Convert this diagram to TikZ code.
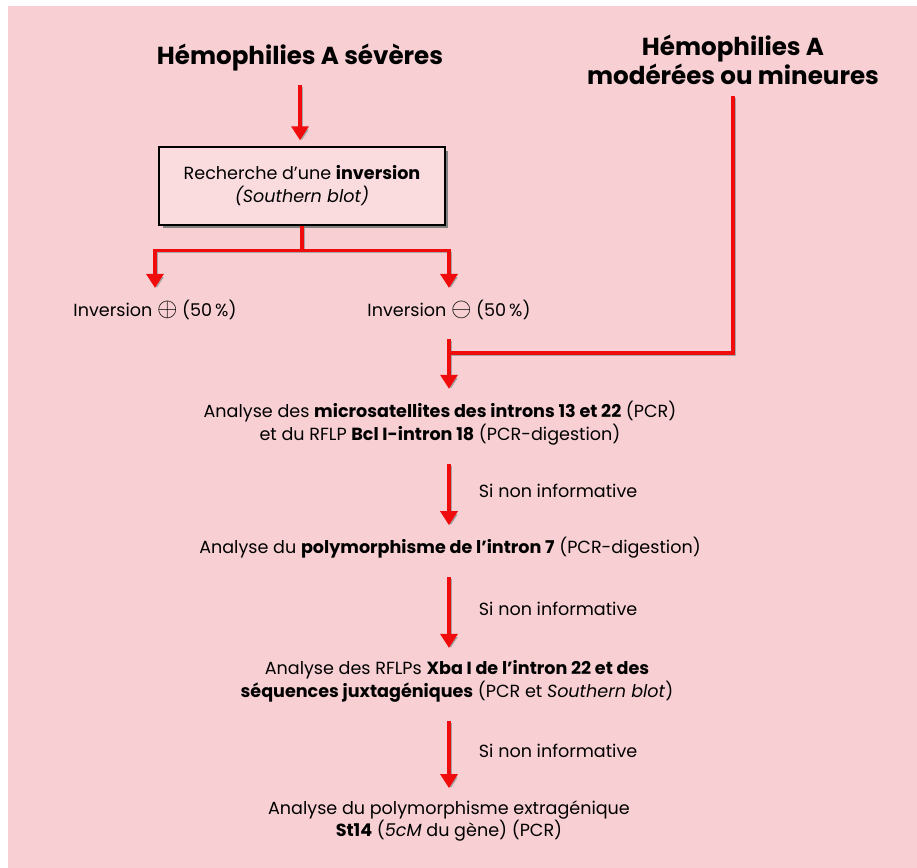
\documentclass[tikz,border=0pt]{standalone}
\usepackage{fontspec}
\setmainfont{Poppins}
\usetikzlibrary{arrows.meta, positioning, shadows}
\definecolor{paper}{RGB}{248,208,211}
\definecolor{arrowred}{RGB}{240,12,12}

\begin{document}
\begin{tikzpicture}[
  x=0.02cm, y=-0.02cm,
  every node/.style={font=\fontsize{10}{13}\selectfont},
  title/.style={font=\fontsize{14}{14.5}\selectfont\bfseries, align=center},
  stage/.style={align=center},
  searchbox/.style={rectangle, draw, line width=0.8pt, fill=paper!75!white, minimum width=5.72cm, minimum height=1.56cm, align=center,
    drop shadow={shadow xshift=0.07cm, shadow yshift=-0.07cm, fill=gray, opacity=1}},
  link/.style={draw=arrowred, line width=1.8pt, -{Triangle[width=0.34cm,length=0.28cm]}, shorten <=0.25cm, shorten >=0.12cm,
    preaction={draw=gray!70, transform canvas={xshift=0.04cm, yshift=-0.04cm}}},
  wire/.style={link, -, shorten <=0.1cm, shorten >=0pt}
]
\useasboundingbox (0,0) rectangle (917,868);
\fill[paper] (8,6) rectangle (917,868);

% Starting populations
\node[title] (severe) at (300,58) {Hémophilies A sévères};
\node[title] (moderate) at (733,60) {Hémophilies A\\modérées ou mineures};

% Inversion search
\node[searchbox] (search) at (302,186) {Recherche d'une \textbf{inversion}\\\textit{(Southern blot)}};
\node (invpos) at (155,310) {Inversion \raisebox{0.02em}{\scalebox{1.5}{$\oplus$}} (50\,\%)};
\node (invneg) at (449,310) {Inversion \raisebox{0.02em}{\scalebox{1.5}{$\ominus$}} (50\,\%)};
\coordinate (merge) at (449,353);

% Successive analyses
\node[stage] (micro) at (440,423) {Analyse des \textbf{microsatellites des introns 13 et 22} (PCR)\\et du RFLP \textbf{Bcl I-intron 18} (PCR-digestion)};
\node[stage] (intron7) at (450,548) {Analyse du \textbf{polymorphisme de l'intron 7} (PCR-digestion)};
\node[stage] (xba) at (457,681) {Analyse des RFLPs \textbf{Xba I de l'intron 22 et des}\\\textbf{séquences juxtagéniques} (PCR et \textit{Southern blot})};
\node[stage] (st14) at (449,821) {Analyse du polymorphisme extragénique\\\textbf{St14} (\textit{5cM} du gène) (PCR)};

% Edges
\draw[link, shorten <=0.15cm] (severe.south) -- (severe.south |- search.north);
\draw[link, shorten <=0pt] (search.south) -- ++(0,25) -| (invpos.north);
\draw[link, shorten <=0pt] (search.south) -- ++(0,25) -| (invneg.north);
\draw[link] (invneg.south) -- (micro.north -| merge);
\draw[wire] (moderate.south) |- (merge);

\draw[link] (micro.south -| merge) -- node[right=0.45cm] {Si non informative} (intron7.north -| merge);
\draw[link] (intron7.south -| merge) -- node[right=0.45cm] {Si non informative} (xba.north -| merge);
\draw[link] (xba.south -| merge) -- node[right=0.45cm] {Si non informative} (st14.north -| merge);

\end{tikzpicture}
\end{document}
